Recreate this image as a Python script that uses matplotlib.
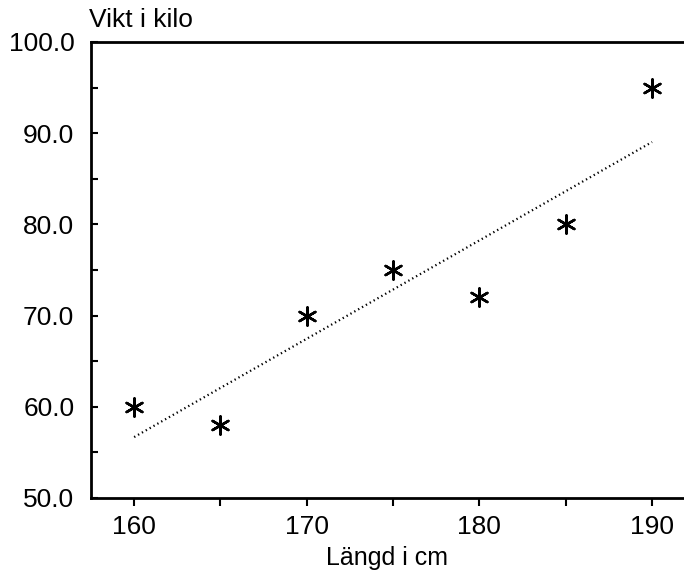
import numpy as np
import matplotlib
matplotlib.use("Agg")
import matplotlib.pyplot as plt
from matplotlib.ticker import MultipleLocator, FormatStrFormatter

plt.rcParams['font.family'] = ['Liberation Sans', 'DejaVu Sans']

# data
langd = np.array([160, 165, 170, 175, 180, 185, 190])
vikt = np.array([60, 58, 70, 75, 72, 80, 95])

# least squares line over the measured range
k, m = np.polyfit(langd, vikt, 1)
fit_x = np.array([langd.min(), langd.max()])
fit_y = k * fit_x + m

fig = plt.figure(figsize=(6.84, 5.76), dpi=100)
ax = fig.add_axes([91/684, 78/576, 593/684, 456/576])

ax.plot(fit_x, fit_y, color='black', linestyle=(0, (0.6, 1.4)), linewidth=1.6)
ax.scatter(langd, vikt, marker=(6, 2, 0), s=170, color='black', linewidths=1.8, zorder=3)

ax.set_xlim(157.5, 191.85)
ax.set_ylim(50, 100)

ax.xaxis.set_major_locator(MultipleLocator(10))
ax.xaxis.set_minor_locator(MultipleLocator(5))
ax.yaxis.set_major_locator(MultipleLocator(10))
ax.yaxis.set_minor_locator(MultipleLocator(5))
ax.yaxis.set_major_formatter(FormatStrFormatter('%.1f'))

ax.tick_params(axis='x', which='both', direction='out', length=6, width=1.5, labelsize=19, pad=6)
ax.tick_params(axis='y', which='both', direction='in', length=5, width=1.5, labelsize=19, pad=12)

ax.spines['right'].set_visible(False)
for side in ['left', 'bottom', 'top']:
    ax.spines[side].set_linewidth(2)

ax.set_xlabel('Längd i cm', fontsize=18, labelpad=5)
fig.text(89/684, 1 - 20/576, 'Vikt i kilo', fontsize=19, ha='left', va='center')

fig.savefig('out.png', dpi=100)
